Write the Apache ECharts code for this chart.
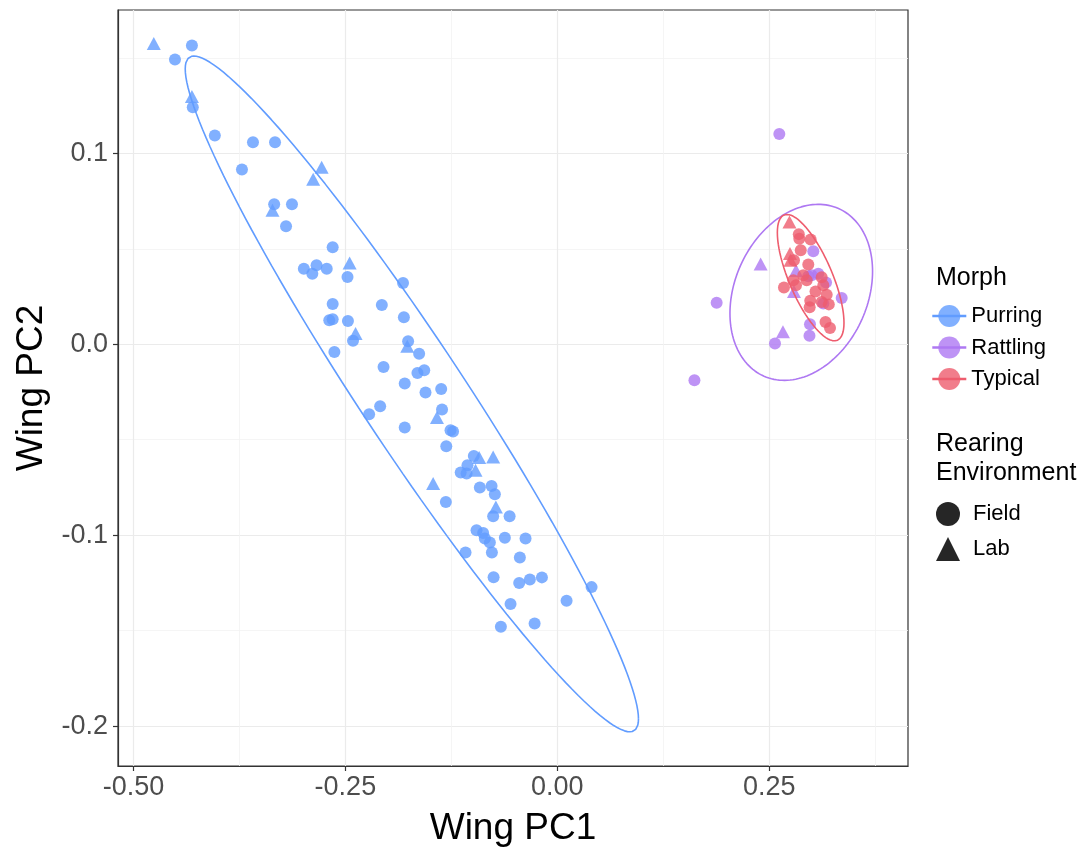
<!DOCTYPE html>
<html>
<head>
<meta charset="utf-8">
<title>Wing PCA</title>
<script src="https://cdn.jsdelivr.net/npm/echarts@6/dist/echarts.min.js"></script>
<style>
html,body{margin:0;padding:0;background:#fff;}
#main{width:1080px;height:848px;}
</style>
</head>
<body>
<div id="main"></div>
<script>
// wing PC scores, split by morph and rearing environment
var purringField = [[-0.431,0.1565],[-0.451,0.1492],[-0.430,0.1241],[-0.404,0.1094],[-0.359,0.1058],[-0.333,0.1058],
    [-0.372,0.0916],[-0.334,0.0733],[-0.313,0.0733],[-0.320,0.0618],[-0.265,0.0508],[-0.299,0.0396],[-0.284,0.0414],
    [-0.289,0.0370],[-0.272,0.0396],[-0.2475,0.0352],[-0.182,0.0321],[-0.265,0.0211],[-0.207,0.0206],[-0.181,0.0141],
    [-0.269,0.0126],[-0.265,0.0131],[-0.247,0.0122],[-0.241,0.0019],[-0.176,0.0016],[-0.163,-0.0049],[-0.263,-0.0040],
    [-0.205,-0.0119],[-0.157,-0.0136],[-0.165,-0.0150],[-0.180,-0.0206],[-0.137,-0.0234],[-0.1555,-0.0253],[-0.209,-0.0325],
    [-0.222,-0.0366],[-0.136,-0.0342],[-0.180,-0.0436],[-0.126,-0.0450],[-0.123,-0.0457],[-0.131,-0.0534],[-0.0985,-0.0585],
    [-0.106,-0.0634],[-0.114,-0.0672],[-0.107,-0.0677],[-0.0914,-0.0750],[-0.0776,-0.0742],[-0.0737,-0.0785],[-0.1315,-0.0826],
    [-0.0757,-0.0901],[-0.0563,-0.0901],[-0.0953,-0.0974],[-0.0875,-0.0988],[-0.0855,-0.1017],[-0.0796,-0.1038],[-0.0619,-0.1014],
    [-0.0375,-0.1017],[-0.1083,-0.1091],[-0.0772,-0.1091],[-0.0442,-0.1117],[-0.0752,-0.1220],[-0.045,-0.1251],[-0.0324,-0.1232],
    [-0.0182,-0.1221],[0.0404,-0.1272],[0.0109,-0.1344],[-0.0552,-0.1361],[-0.0666,-0.1480],[-0.0268,-0.1462]];
var purringLab = [[-0.476,0.1576],[-0.431,0.1298],[-0.278,0.0927],[-0.288,0.0864],[-0.336,0.0702],[-0.245,0.0426],
    [-0.238,0.0056],[-0.177,-0.0010],[-0.142,-0.0384],[-0.0922,-0.0593],[-0.0757,-0.0590],[-0.0965,-0.0660],
    [-0.1465,-0.0729],[-0.0725,-0.0852]];
var rattlingField = [[0.2618,0.1101],[0.1879,0.0218],[0.1617,-0.0188],[0.2567,0.0004],[0.298,0.0105],[0.2974,0.0045],
    [0.3354,0.0243],[0.3019,0.0487],[0.296,0.0356],[0.3078,0.0370],[0.300,0.0361],[0.3169,0.0324],[0.3137,0.0213]];
var rattlingLab = [[0.2398,0.0421],[0.2815,0.0387],[0.2791,0.0276],[0.2661,0.0065]];
var typicalField = [[0.2848,0.0577],[0.2854,0.0553],[0.2988,0.0549],[0.2871,0.0492],[0.296,0.0418],[0.2901,0.0361],
    [0.3118,0.0351],[0.3137,0.0309],[0.2783,0.0335],[0.2673,0.0298],[0.2815,0.0309],[0.3045,0.0277],[0.3177,0.0259],
    [0.2983,0.0228],[0.3118,0.0221],[0.3202,0.0209],[0.2976,0.0194],[0.3163,0.0117],[0.3216,0.0085],[0.2791,0.0440],
    [0.2941,0.0335]];
var typicalLab = [[0.2738,0.0641],[0.2744,0.0476],[0.2750,0.0440]];

// 95% ellipses: [centre x, centre y, half width, half height, y offset at rightmost point]
var purringEllipse = [-0.1716, -0.0260, 0.2673, 0.1770, -0.1702];
var rattlingEllipse = [0.2877, 0.0272, 0.0841, 0.0461, 0.0110];
var typicalEllipse = [0.2988, 0.0349, 0.0393, 0.0331, -0.0236];

var xTicks = [-0.5, -0.25, 0, 0.25];
var xMinor = [-0.375, -0.125, 0.125, 0.375];
var yTicks = [-0.2, -0.1, 0, 0.1];
var yMinor = [-0.15, -0.05, 0.05, 0.15];

var xMin = -0.5182, xMax = 0.4136, yMin = -0.2209, yMax = 0.1751;

var colBlue = '#619CFF', colPurple = '#AE78F2', colRed = '#EE5D6E';
var font = "'Liberation Sans', Arial, Helvetica, sans-serif";

function ellipsePath(e){
    var pts = [], n = 160;
    var m = Math.sqrt(e[3]*e[3] - e[4]*e[4]);
    for (var i = 0; i <= n; i++) {
        var t = 2*Math.PI*i/n;
        pts.push([e[0] + e[2]*Math.cos(t), e[1] + e[4]*Math.cos(t) + m*Math.sin(t)]);
    }
    return pts;
}

function ellipseSeries(name, e, col){
    return {
        name: name, type: 'line', data: ellipsePath(e), symbol: 'none', smooth: false,
        lineStyle: {color: col, width: 1.6}, itemStyle: {color: col, opacity: 0.8},
        silent: true, z: 4
    };
}

function pointSeries(name, data, col, shape){
    return {
        name: name, type: 'scatter', data: data,
        symbol: shape, symbolSize: shape == 'triangle' ? [14, 13] : 12,
        itemStyle: {color: col, opacity: 0.8}, z: 3
    };
}

var chart = echarts.init(document.getElementById('main'));
var option = {
    animation: false,
    backgroundColor: '#fff',
    tooltip: {trigger: 'item'},
    grid: {left: 118, right: 172, top: 10, bottom: 82, show: true, borderColor: '#333', borderWidth: 1.2,
        containLabel: false, outerBoundsMode: 'none'},
    xAxis: [{
        type: 'value', min: xMin, max: xMax, position: 'bottom',
        name: 'Wing PC1', nameLocation: 'middle', nameGap: 44,
        nameTextStyle: {fontSize: 37, color: '#000', fontFamily: font},
        axisLine: {show: true, onZero: false, lineStyle: {color: '#333', width: 1.2}},
        axisTick: {show: true, length: 5, customValues: xTicks, lineStyle: {color: '#333', width: 1.2}},
        axisLabel: {customValues: xTicks, fontSize: 27, color: '#4D4D4D', fontFamily: font, margin: 8,
            formatter: function(v){ return v.toFixed(2); }},
        splitLine: {show: true, lineStyle: {color: '#EBEBEB', width: 1.2}}
    }, {
        type: 'value', min: xMin, max: xMax, position: 'top',
        axisLine: {show: false, onZero: false}, axisTick: {show: false, customValues: xMinor},
        axisLabel: {show: false, customValues: xMinor},
        splitLine: {show: true, lineStyle: {color: '#F2F2F2', width: 0.8}}
    }],
    yAxis: [{
        type: 'value', min: yMin, max: yMax, position: 'left',
        name: 'Wing PC2', nameLocation: 'middle', nameGap: 67, nameRotate: 90,
        nameTextStyle: {fontSize: 37, color: '#000', fontFamily: font},
        axisLine: {show: true, onZero: false, lineStyle: {color: '#333', width: 1.2}},
        axisTick: {show: true, length: 5, customValues: yTicks, lineStyle: {color: '#333', width: 1.2}},
        axisLabel: {customValues: yTicks, fontSize: 27, color: '#4D4D4D', fontFamily: font, margin: 10,
            formatter: function(v){ return v.toFixed(1); }},
        splitLine: {show: true, lineStyle: {color: '#EBEBEB', width: 1.2}}
    }, {
        type: 'value', min: yMin, max: yMax, position: 'right',
        axisLine: {show: false, onZero: false}, axisTick: {show: false, customValues: yMinor},
        axisLabel: {show: false, customValues: yMinor},
        splitLine: {show: true, lineStyle: {color: '#F2F2F2', width: 0.8}}
    }],
    legend: [{
        data: ['Purring', 'Rattling', 'Typical'], orient: 'vertical', left: 931, top: 305, padding: 0,
        itemWidth: 34, itemHeight: 27.5, itemGap: 9.5, selectedMode: false,
        lineStyle: {width: 2.6},
        textStyle: {fontSize: 22, color: '#000', fontFamily: font, padding: 0}
    }, {
        data: [{name: 'Field', icon: 'circle', itemStyle: {color: '#262626', opacity: 1}},
               {name: 'Lab', icon: 'triangle', itemStyle: {color: '#262626', opacity: 1}}],
        orient: 'vertical', left: 936, top: 502, padding: 0,
        itemWidth: 24, itemHeight: 24, itemGap: 11, selectedMode: false,
        textStyle: {fontSize: 22, color: '#000', fontFamily: font, padding: [0, 0, 0, 8]}
    }],
    graphic: [
        {type: 'text', left: 936, top: 266, style: {text: 'Morph', font: '25px ' + font, fill: '#000'}},
        {type: 'text', left: 936, top: 430, style: {text: 'Rearing\nEnvironment', font: '25px ' + font,
            lineHeight: 29, fill: '#000'}}
    ],
    series: [
        pointSeries('Purring field', purringField, colBlue, 'circle'),
        pointSeries('Purring lab', purringLab, colBlue, 'triangle'),
        pointSeries('Rattling field', rattlingField, colPurple, 'circle'),
        pointSeries('Rattling lab', rattlingLab, colPurple, 'triangle'),
        pointSeries('Typical field', typicalField, colRed, 'circle'),
        pointSeries('Typical lab', typicalLab, colRed, 'triangle'),
        ellipseSeries('Purring', purringEllipse, colBlue),
        ellipseSeries('Rattling', rattlingEllipse, colPurple),
        ellipseSeries('Typical', typicalEllipse, colRed),
        {name: 'Field', type: 'scatter', data: [], symbol: 'circle', itemStyle: {color: '#262626'}},
        {name: 'Lab', type: 'scatter', data: [], symbol: 'triangle', itemStyle: {color: '#262626'}}
    ]
};
chart.setOption(option);
</script>
</body>
</html>
